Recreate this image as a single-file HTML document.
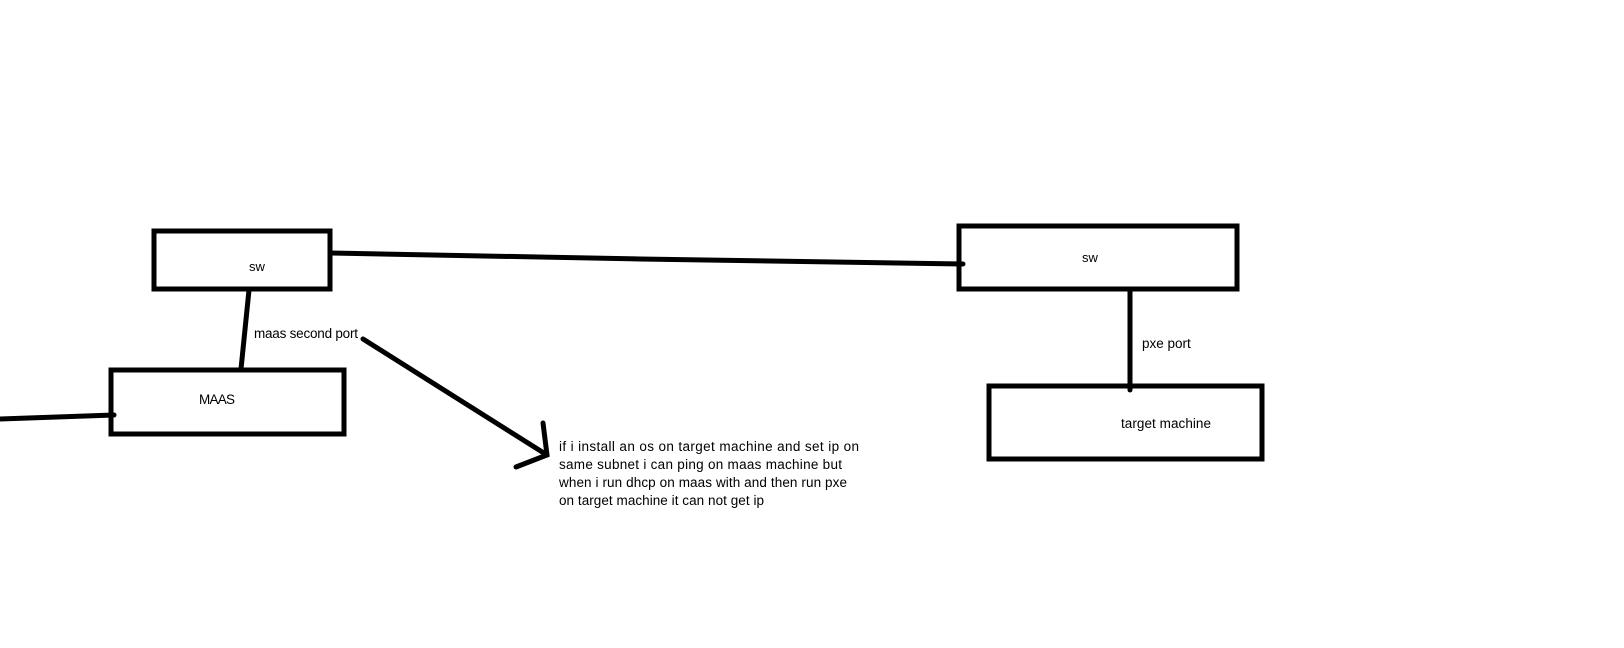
<!DOCTYPE html>
<html><head><style>html,body{margin:0;padding:0;background:#fff;}svg{display:block}</style></head>
<body>
<svg width="1624" height="648" viewBox="0 0 1624 648" xmlns="http://www.w3.org/2000/svg" font-family="Liberation Sans, sans-serif" font-size="13.5" fill="#000">
<g fill="none" stroke="#000" stroke-width="5" stroke-linecap="round">
<rect x="154" y="231" width="176" height="58"/>
<rect x="111" y="370" width="233" height="64"/>
<rect x="959" y="226" width="278" height="63"/>
<rect x="989" y="386" width="273" height="73"/>
<path d="M0 419 L114 415"/>
<path d="M249 290 L241 369"/>
<path d="M331 253 L640 259 L963 264"/>
<path d="M1130 291 L1130 390"/>
<path d="M363 339 L547 455"/>
<path d="M543 423 L547 455 L516 467"/>
</g>
<text x="257" y="271" text-anchor="middle" font-size="13">sw</text>
<text x="1090" y="262" text-anchor="middle" font-size="13">sw</text>
<text x="199" y="404" textLength="36">MAAS</text>
<text x="254" y="338" textLength="104">maas second port</text>
<text x="1142" y="348">pxe port</text>
<text x="1121" y="428" textLength="90">target machine</text>
<text x="559" y="451" textLength="300">if i install an os on target machine and set ip on</text>
<text x="559" y="469" textLength="283">same subnet i can ping on maas machine but</text>
<text x="559" y="487" textLength="288">when i run dhcp on maas with and then run pxe</text>
<text x="559" y="505" textLength="205">on target machine it can not get ip</text>
</svg>
</body></html>
